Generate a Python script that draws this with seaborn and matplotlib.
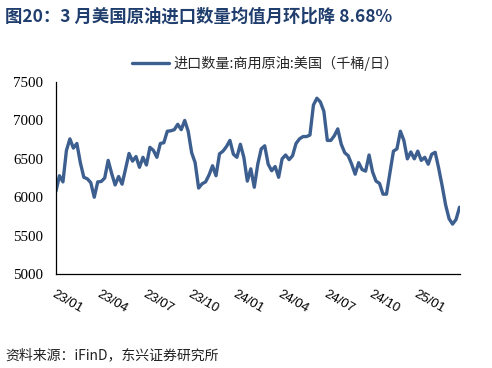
import numpy as np
import pandas as pd
import matplotlib
matplotlib.use("Agg")
import matplotlib.pyplot as plt
import seaborn as sns

# weekly US commercial crude imports (kb/d), 2023-01 .. 2025-03
imports = [6080, 6280, 6200, 6610, 6760, 6640, 6700, 6450, 6260, 6240,
           6190, 6000, 6200, 6205, 6250, 6480, 6310, 6160, 6270, 6170,
           6370, 6570, 6470, 6530, 6390, 6520, 6420, 6650, 6610, 6520,
           6700, 6710, 6860, 6865, 6880, 6950, 6880, 7000, 6860, 6580,
           6450, 6120, 6175, 6200, 6290, 6410, 6280, 6565, 6600, 6660,
           6740, 6560, 6520, 6690, 6520, 6210, 6370, 6130, 6430, 6630,
           6670, 6430, 6345, 6400, 6260, 6500, 6550, 6490, 6540, 6700,
           6760, 6790, 6790, 6810, 7200, 7290, 7240, 7120, 6740, 6740,
           6800, 6890, 6690, 6580, 6540, 6430, 6300, 6450, 6360, 6340,
           6550, 6330, 6210, 6180, 6040, 6040, 6320, 6600, 6630, 6860,
           6740, 6500, 6590, 6500, 6600, 6480, 6520, 6430, 6560, 6585,
           6380, 6150, 5900, 5720, 5650, 5710, 5870]
tick_labels = ["23/01", "23/04", "23/07", "23/10", "24/01", "24/04", "24/07", "24/10", "25/01"]

df = pd.DataFrame({"week": np.arange(len(imports)), "imports": imports})

sns.set_theme(style="white")
plt.rcParams['font.family'] = ['Noto Sans CJK SC', 'DejaVu Sans']

fig = plt.figure(figsize=(4.92, 3.68), dpi=100)
ax = fig.add_axes([0.1138, 0.2554, 0.8202, 0.5216])

sns.lineplot(data=df, x="week", y="imports", ax=ax, color="#3d5f8f", linewidth=2.4,
             label="进口数量:商用原油:美国（千桶/日）")

ax.set_xlim(0, len(imports) - 1)
ax.set_ylim(5000, 7500)
ax.set_yticks([5000, 5500, 6000, 6500, 7000, 7500])
ax.set_xticks(np.arange(0, 13 * len(tick_labels), 13))
ax.set_xticklabels(tick_labels, rotation=-30, ha="left", va="top", rotation_mode="anchor",
                   family=["Liberation Sans"], fontsize=9.5, color="#111111")
for t in ax.get_yticklabels():
    t.set_family(["Liberation Serif"])
    t.set_fontsize(10.8)
    t.set_color("#111111")
ax.set_xlabel("")
ax.set_ylabel("")
ax.tick_params(axis="both", direction="in", length=4, width=0.8, colors="black")
ax.tick_params(axis="y", pad=9)
ax.tick_params(axis="x", pad=10)
for s in ["top", "right"]:
    ax.spines[s].set_visible(False)
for s in ["left", "bottom"]:
    ax.spines[s].set_color("black")
    ax.spines[s].set_linewidth(0.9)
ax.grid(False)

leg = ax.legend(loc="lower center", bbox_to_anchor=(0.518, 1.03), frameon=False,
                fontsize=10.2, handlelength=2.6, handletextpad=0.3, borderaxespad=0)

fig.text(0.01, 0.955, "图20：3 月美国原油进口数量均值月环比降 8.68%", fontsize=12.5,
         fontweight="bold", color="#1f3d6d", ha="left", va="center")
fig.text(0.01, 0.035, "资料来源：iFinD，东兴证券研究所", fontsize=10,
         color="#222222", style="italic", ha="left", va="center")

fig.savefig("out.png", dpi=100)
